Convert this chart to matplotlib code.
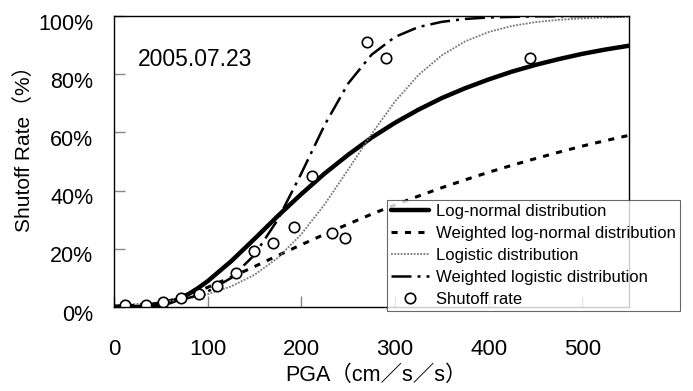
import matplotlib
matplotlib.use("Agg")
import matplotlib.pyplot as plt
from matplotlib.ticker import PercentFormatter
from matplotlib.transforms import ScaledTranslation

plt.rcParams['font.family'] = ['Liberation Sans', 'Noto Sans CJK JP', 'DejaVu Sans']

# PGA grid (cm/s/s) for the fitted curves
pga_grid = [0, 10, 20, 30, 40, 50, 60, 70, 80, 90, 100, 125, 150, 175, 200, 225,
            250, 275, 300, 325, 350, 375, 400, 425, 450, 475, 500, 525, 550]

# fitted curves (shutoff probability)
lognormal = [0.0, 0.0, 0.0001, 0.0007, 0.0029, 0.0079, 0.0164, 0.0289, 0.0454, 0.0655,
             0.0887, 0.157, 0.234, 0.313, 0.388, 0.459, 0.523, 0.582, 0.633, 0.678,
             0.718, 0.752, 0.782, 0.809, 0.832, 0.852, 0.870, 0.885, 0.898]
weighted_lognormal = [0.0, 0.0001, 0.0009, 0.0034, 0.0078, 0.0141, 0.0222, 0.0318, 0.0428,
                      0.0548, 0.0676, 0.1024, 0.139, 0.177, 0.214, 0.250, 0.285, 0.319,
                      0.351, 0.381, 0.410, 0.437, 0.463, 0.487, 0.510, 0.532, 0.553,
                      0.572, 0.590]
logistic = [0.0064, 0.0078, 0.0095, 0.0115, 0.0140, 0.0170, 0.0206, 0.0250, 0.0303, 0.0366,
            0.0443, 0.0706, 0.1106, 0.169, 0.250, 0.353, 0.472, 0.594, 0.706, 0.797,
            0.865, 0.913, 0.945, 0.966, 0.979, 0.987, 0.992, 0.995, 0.997]
weighted_logistic = [0.0037, 0.0048, 0.0063, 0.0083, 0.0109, 0.0142, 0.0186, 0.0242, 0.0316,
                     0.0410, 0.0532, 0.0997, 0.179, 0.301, 0.459, 0.626, 0.768, 0.867,
                     0.928, 0.962, 0.980, 0.990, 0.995, 0.997, 0.999, 0.999, 1.0, 1.0, 1.0]

# observed shutoff rates
obs_pga = [12, 34, 52, 72, 91, 110, 130, 150, 170, 192, 211, 233, 247, 270, 290, 444]
obs_rate = [0.007, 0.007, 0.018, 0.030, 0.044, 0.072, 0.118, 0.192, 0.220, 0.276,
            0.450, 0.255, 0.238, 0.912, 0.857, 0.857]

x_ticks = [0, 100, 200, 300, 400, 500]
y_ticks = [0, 0.2, 0.4, 0.6, 0.8, 1.0]

fig = plt.figure(figsize=(6.93, 3.91), dpi=100)
ax = fig.add_axes([0.1645, 0.2148, 0.7432, 0.7442])

ax.plot(pga_grid, lognormal, color='black', lw=3.2, solid_capstyle='round',
        label='Log-normal distribution')
ax.plot(pga_grid, weighted_lognormal, color='black', lw=2.2, dashes=(2.0, 2.4),
        label='Weighted log-normal distribution')
ax.plot(pga_grid, logistic, color='#777777', lw=1.3, linestyle=(0, (1, 0.8)),
        label='Logistic distribution')
ax.plot(pga_grid, weighted_logistic, color='black', lw=1.8, dashes=(8, 2.4, 1.2, 2.4),
        label='Weighted logistic distribution')
ax.plot(obs_pga, obs_rate, linestyle='none', marker='o', markersize=7.5,
        markerfacecolor='white', markeredgecolor='black', markeredgewidth=1.2,
        label='Shutoff rate')

ax.set_xlim(0, 550)
ax.set_ylim(0, 1.0)
ax.set_xticks(x_ticks)
ax.set_yticks(y_ticks)
ax.yaxis.set_major_formatter(PercentFormatter(1.0, decimals=0))
ax.tick_params(axis='x', direction='in', length=8, width=1, color='#888888',
               labelsize=16, pad=23)
ax.tick_params(axis='y', direction='in', length=8, width=1, color='#888888',
               labelsize=15.5, pad=15)
for lbl in ax.get_yticklabels():
    lbl.set_transform(lbl.get_transform() + ScaledTranslation(0, -4 / 72, fig.dpi_scale_trans))
for sp in ax.spines.values():
    sp.set_linewidth(1.0)

ax.set_xlabel('PGA（cm／s／s）', fontsize=15.5)
ax.set_ylabel('Shutoff Rate（%）', fontsize=15)
ax.xaxis.set_label_coords(0.509, -0.2)
ax.yaxis.set_label_coords(-0.155, 0.562)

ax.text(25, 0.85, '2005.07.23', fontsize=16.5, va='center', ha='left')

leg = ax.legend(loc='upper left', bbox_to_anchor=(0.558, 0.489),
                bbox_transform=fig.transFigure, borderaxespad=0, fontsize=12,
                frameon=True, fancybox=False, handlelength=2.3, handletextpad=0.4,
                labelspacing=0.42, borderpad=0.25)
leg.get_frame().set_edgecolor('#444444')
leg.get_frame().set_linewidth(0.8)

fig.savefig('out.png', dpi=100)
